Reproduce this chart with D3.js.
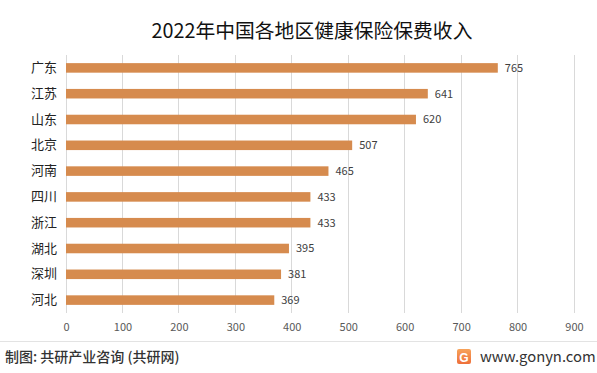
<!DOCTYPE html>
<html><head><meta charset="utf-8">
<script src="https://cdn.jsdelivr.net/npm/d3@7"></script>
<style>body{margin:0;background:#fff;}svg{display:block;font-family:"Microsoft YaHei","Noto Sans CJK SC",sans-serif;}</style>
</head><body><svg id="c" width="597" height="373"></svg>
<script>
const categories = ["广东","江苏","山东","北京","河南","四川","浙江","湖北","深圳","河北"];
const values = [765,641,620,507,465,433,433,395,381,369];
const ticks = [0,100,200,300,400,500,600,700,800,900];
const title = "2022年中国各地区健康保险保费收入";

const svg = d3.select("#c");
const x = d3.scaleLinear().domain([0,900]).range([66,574]);
const y = d3.scaleBand().domain(categories).range([55,313]).paddingInner(0.63).paddingOuter(0.315);

svg.append("text").attr("x",312).attr("y",38).attr("text-anchor","middle")
  .attr("font-size",19.8).attr("fill","#111").text(title);

svg.append("g").selectAll("line").data(ticks).join("line")
  .attr("x1",d=>x(d)).attr("x2",d=>x(d)).attr("y1",55).attr("y2",313)
  .attr("stroke","#d9d9d9").attr("stroke-width",1).attr("shape-rendering","crispEdges");

const xa = svg.append("g").attr("transform","translate(0,313)")
  .call(d3.axisBottom(x).tickValues(ticks).tickSize(0).tickPadding(10));
xa.select(".domain").remove();
xa.selectAll("text").attr("font-size",11).attr("fill","#595959").attr("font-family","'Microsoft YaHei','Noto Sans CJK SC',sans-serif");

const ya = svg.append("g").attr("transform","translate(57,0)")
  .call(d3.axisLeft(y).tickSize(0).tickPadding(0));
ya.select(".domain").remove();
ya.selectAll("text").attr("font-size",13).attr("fill","#222").attr("font-family","'Microsoft YaHei','Noto Sans CJK SC',sans-serif");

svg.append("g").selectAll("rect").data(values).join("rect")
  .attr("x",x(0)).attr("y",(d,i)=>y(categories[i]))
  .attr("width",d=>x(d)-x(0)).attr("height",y.bandwidth())
  .attr("fill","#D68B4E");

svg.append("g").selectAll("text").data(values).join("text")
  .attr("x",d=>x(d)+7).attr("y",(d,i)=>y(categories[i])+y.bandwidth()/2)
  .attr("dy","0.35em").attr("font-size",11).attr("fill","#404040").text(d=>d);

svg.append("line").attr("x1",0).attr("x2",597).attr("y1",341.5).attr("y2",341.5)
  .attr("stroke","#e3e3e3");
svg.append("text").attr("x",5).attr("y",362).attr("font-size",14).attr("font-weight",500)
  .attr("fill","#333").text("制图: 共研产业咨询 (共研网)");
const defs = svg.append("defs");
const gr = defs.append("linearGradient").attr("id","lgG").attr("x1",0).attr("x2",0).attr("y1",0).attr("y2",1);
gr.append("stop").attr("offset",0).attr("stop-color","#F7A35A");
gr.append("stop").attr("offset",1).attr("stop-color","#EE6F3A");
const lg = svg.append("g").attr("transform","translate(457,349)");
lg.append("rect").attr("width",14).attr("height",15).attr("rx",2).attr("fill","url(#lgG)");
lg.append("text").attr("x",7).attr("y",12.5).attr("text-anchor","middle").attr("font-size",12)
  .attr("font-weight","bold").attr("fill","#fff").attr("font-family","Arial,'Liberation Sans',sans-serif").text("G");
svg.append("text").attr("x",480).attr("y",362).attr("font-size",14.8).attr("fill","#333")
  .attr("font-family","'Microsoft YaHei','Noto Sans CJK SC',sans-serif").text("www.gonyn.com");
</script></body></html>
